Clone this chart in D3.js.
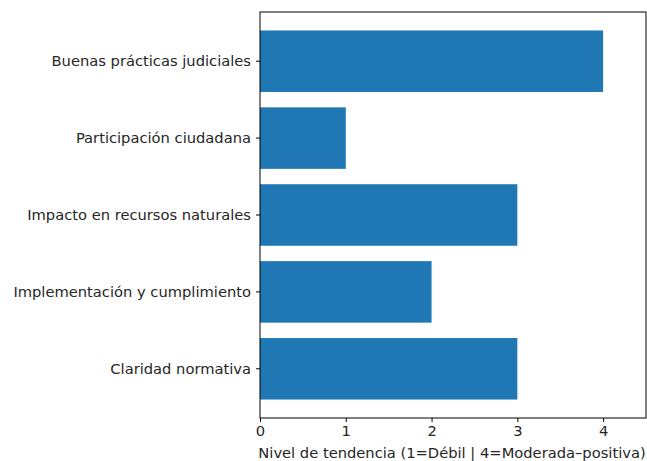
<!DOCTYPE html>
<html>
<head>
<meta charset="utf-8">
<script src="https://cdn.jsdelivr.net/npm/d3@7"></script>
<style>
  body { margin: 0; background: #fff; }
  svg text { font-family: "DejaVu Sans", sans-serif; fill: #262626; }
</style>
</head>
<body>
<svg id="chart" width="647" height="461"></svg>
<script>
const categories = [
  "Buenas prácticas judiciales",
  "Participación ciudadana",
  "Impacto en recursos naturales",
  "Implementación y cumplimiento",
  "Claridad normativa"
];
const values = [4, 1, 3, 2, 3];
const xTicks = [0, 1, 2, 3, 4];
const xLabel = "Nivel de tendencia (1=Débil | 4=Moderada–positiva)";

(function () {
const svg = d3.select("#chart");
const mLeft = 260, mRight = 646, mTop = 12, mBottom = 418;
const fs = 14.7;

const x = d3.scaleLinear().domain([0, 4.5]).range([mLeft, mRight]);
const y = d3.scaleBand().domain(categories).range([mTop, mBottom])
  .paddingInner(0.2).paddingOuter(0.24);

svg.selectAll("rect.bar").data(categories).join("rect")
  .attr("class", "bar")
  .attr("x", x(0))
  .attr("y", d => y(d))
  .attr("width", (d, i) => x(values[i]) - x(0))
  .attr("height", y.bandwidth())
  .attr("fill", "#1f77b4");

const xAxis = svg.append("g").attr("transform", `translate(0,${mBottom})`)
  .call(d3.axisBottom(x).tickValues(xTicks).tickFormat(d3.format("d")).tickSize(4).tickPadding(4));
xAxis.select(".domain").remove();
xAxis.selectAll("text").attr("font-size", fs).style("font-family", "DejaVu Sans");
xAxis.selectAll("line").attr("stroke", "#000");

const yAxis = svg.append("g").attr("transform", `translate(${mLeft},0)`)
  .call(d3.axisLeft(y).tickSize(4).tickPadding(5));
yAxis.select(".domain").remove();
yAxis.selectAll("text").attr("font-size", fs).style("font-family", "DejaVu Sans");
yAxis.selectAll("line").attr("stroke", "#000");

svg.append("rect")
  .attr("x", mLeft).attr("y", mTop)
  .attr("width", mRight - mLeft).attr("height", mBottom - mTop)
  .attr("fill", "none").attr("stroke", "#000").attr("stroke-width", 1);

svg.append("text")
  .attr("x", (mLeft + mRight) / 2 - 1).attr("y", 458)
  .attr("text-anchor", "middle").attr("font-size", fs)
  .text(xLabel);
})();
</script>
</body>
</html>
